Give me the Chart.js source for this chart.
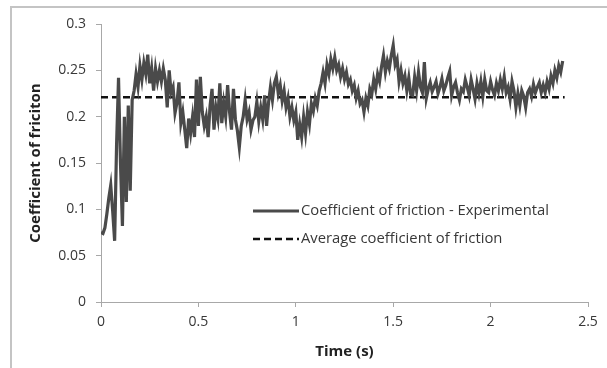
<!DOCTYPE html>
<html>
<head>
<meta charset="utf-8">
<title>Coefficient of friction</title>
<script src="https://cdn.jsdelivr.net/npm/chart.js@4/dist/chart.umd.min.js"></script>
<style>
  html, body { margin: 0; padding: 0; background: #fff; overflow: hidden; }
  #wrap { position: relative; width: 607px; height: 368px; }
  #frame {
    position: absolute; left: 10px; top: 6px; width: 700px; height: 500px;
    border: 2px solid #c4c4c4; box-sizing: border-box;
  }
  #plot { position: absolute; left: 0; top: 0; }
</style>
</head>
<body>
<div id="wrap">
  <div id="frame"></div>
  <canvas id="plot" width="607" height="368"></canvas>
</div>
<script>
// --- data ---------------------------------------------------------------
const timeStep = 0.01; // sampling interval (s)

// measured coefficient of friction, one sample every 10 ms from t = 0
const frictionCoef = [
  0.075, 0.074, 0.080, 0.095, 0.112, 0.126, 0.098, 0.066, 0.170, 0.242,
  0.150, 0.082, 0.200, 0.108, 0.212, 0.120, 0.218, 0.228, 0.246, 0.232,
  0.255, 0.240, 0.258, 0.246, 0.267, 0.236, 0.252, 0.228, 0.252, 0.238,
  0.250, 0.238, 0.252, 0.240, 0.210, 0.250, 0.226, 0.232, 0.204, 0.215,
  0.237, 0.193, 0.205, 0.186, 0.166, 0.198, 0.182, 0.200, 0.178, 0.240,
  0.190, 0.243, 0.205, 0.190, 0.200, 0.178, 0.212, 0.230, 0.186, 0.210,
  0.198, 0.236, 0.193, 0.215, 0.200, 0.234, 0.205, 0.186, 0.230, 0.197,
  0.185, 0.167, 0.190, 0.200, 0.218, 0.197, 0.205, 0.186, 0.196, 0.200,
  0.216, 0.195, 0.210, 0.197, 0.223, 0.190, 0.215, 0.232, 0.218, 0.236,
  0.243, 0.225, 0.234, 0.217, 0.228, 0.210, 0.220, 0.200, 0.210, 0.196,
  0.205, 0.175, 0.192, 0.178, 0.200, 0.182, 0.205, 0.192, 0.214, 0.206,
  0.220, 0.212, 0.228, 0.236, 0.248, 0.236, 0.256, 0.246, 0.262, 0.252,
  0.264, 0.250, 0.256, 0.243, 0.252, 0.240, 0.248, 0.235, 0.240, 0.228,
  0.234, 0.220, 0.228, 0.214, 0.218, 0.205, 0.220, 0.212, 0.230, 0.224,
  0.240, 0.230, 0.246, 0.238, 0.254, 0.266, 0.248, 0.260, 0.252, 0.266,
  0.277, 0.256, 0.262, 0.238, 0.250, 0.236, 0.244, 0.228, 0.242, 0.224,
  0.223, 0.243, 0.228, 0.248, 0.232, 0.226, 0.259, 0.220, 0.230, 0.237,
  0.227, 0.232, 0.238, 0.225, 0.232, 0.241, 0.228, 0.234, 0.242, 0.249,
  0.223, 0.232, 0.237, 0.226, 0.218, 0.230, 0.227, 0.240, 0.232, 0.223,
  0.240, 0.230, 0.219, 0.236, 0.225, 0.238, 0.222, 0.240, 0.228, 0.226,
  0.238, 0.229, 0.223, 0.236, 0.228, 0.240, 0.230, 0.243, 0.226, 0.232,
  0.219, 0.238, 0.228, 0.210, 0.225, 0.212, 0.228, 0.222, 0.210, 0.226,
  0.230, 0.222, 0.235, 0.226, 0.232, 0.237, 0.226, 0.234, 0.226, 0.238,
  0.230, 0.244, 0.236, 0.250, 0.242, 0.255, 0.248, 0.260
];

// average value and the time span it is drawn over
const avgFriction = 0.221;
const avgSpan = [0, 2.38];

const xTickValues = [0, 0.5, 1, 1.5, 2, 2.5];
const yTickValues = [0, 0.05, 0.1, 0.15, 0.2, 0.25, 0.3];

const seriesLabels = ['Coefficient of friction - Experimental', 'Average coefficient of friction'];

// --- chart --------------------------------------------------------------
const FONT = '"Open Sans", "Liberation Sans", sans-serif';
const AXIS_GREY = '#a8a8a8';
const TEXT = '#383838';

const measured = frictionCoef.map((v, i) => ({ x: i * timeStep, y: v }));
const average = avgSpan.map(t => ({ x: t, y: avgFriction }));

// legend sitting inside the plot area
const insideLegend = {
  id: 'insideLegend',
  afterDraw(chart) {
    const ctx = chart.ctx;
    const x0 = 253, len = 46, rows = [211, 239];
    ctx.save();
    chart.data.datasets.forEach((ds, i) => {
      const y = rows[i];
      ctx.beginPath();
      ctx.strokeStyle = ds.borderColor;
      ctx.lineWidth = ds.borderWidth;
      ctx.setLineDash(ds.borderDash || []);
      ctx.moveTo(x0, y);
      ctx.lineTo(x0 + len, y);
      ctx.stroke();
      ctx.setLineDash([]);
      ctx.fillStyle = TEXT;
      ctx.font = '14.8px ' + FONT;
      ctx.textBaseline = 'middle';
      ctx.textAlign = 'left';
      ctx.fillText(ds.label, x0 + len + 2, y);
    });
    ctx.restore();
  }
};

new Chart(document.getElementById('plot'), {
  type: 'line',
  data: {
    datasets: [
      {
        label: seriesLabels[0],
        data: measured,
        borderColor: '#4a4a4a',
        borderWidth: 3.2,
        pointRadius: 0,
        tension: 0
      },
      {
        label: seriesLabels[1],
        data: average,
        borderColor: '#111111',
        borderWidth: 2.5,
        borderDash: [7, 4],
        pointRadius: 0
      }
    ]
  },
  options: {
    responsive: false,
    animation: false,
    layout: { padding: { left: 27, right: 19, top: 24, bottom: 0 } },
    plugins: {
      legend: { display: false },
      tooltip: { enabled: false }
    },
    scales: {
      x: {
        type: 'linear',
        min: 0,
        max: 2.5,
        afterBuildTicks: axis => { axis.ticks = xTickValues.map(v => ({ value: v })); },
        afterFit: axis => { axis.height = 66; },
        border: { color: AXIS_GREY, width: 1 },
        grid: { drawOnChartArea: false, drawTicks: true, tickLength: 5, tickColor: AXIS_GREY },
        ticks: {
          color: TEXT,
          padding: 7,
          maxRotation: 0,
          font: { family: FONT, size: 14 },
          callback: v => String(v)
        },
        title: {
          display: true,
          text: 'Time (s)',
          color: '#222',
          padding: { top: 0, bottom: 7 },
          font: { family: FONT, size: 15, weight: 'bold' }
        }
      },
      y: {
        min: 0,
        max: 0.3,
        afterBuildTicks: axis => { axis.ticks = yTickValues.map(v => ({ value: v })); },
        afterFit: axis => { axis.width = 74; },
        border: { color: AXIS_GREY, width: 1 },
        grid: { drawOnChartArea: false, drawTicks: true, tickLength: 5, tickColor: AXIS_GREY },
        ticks: {
          color: TEXT,
          padding: 10,
          font: { family: FONT, size: 14 },
          callback: v => String(Number(v.toFixed(2)))
        },
        title: {
          display: true,
          text: 'Coefficient of friciton',
          color: '#222',
          padding: { top: 0, bottom: 0 },
          font: { family: FONT, size: 15, weight: 'bold' }
        }
      }
    }
  },
  plugins: [insideLegend]
});
</script>
</body>
</html>
